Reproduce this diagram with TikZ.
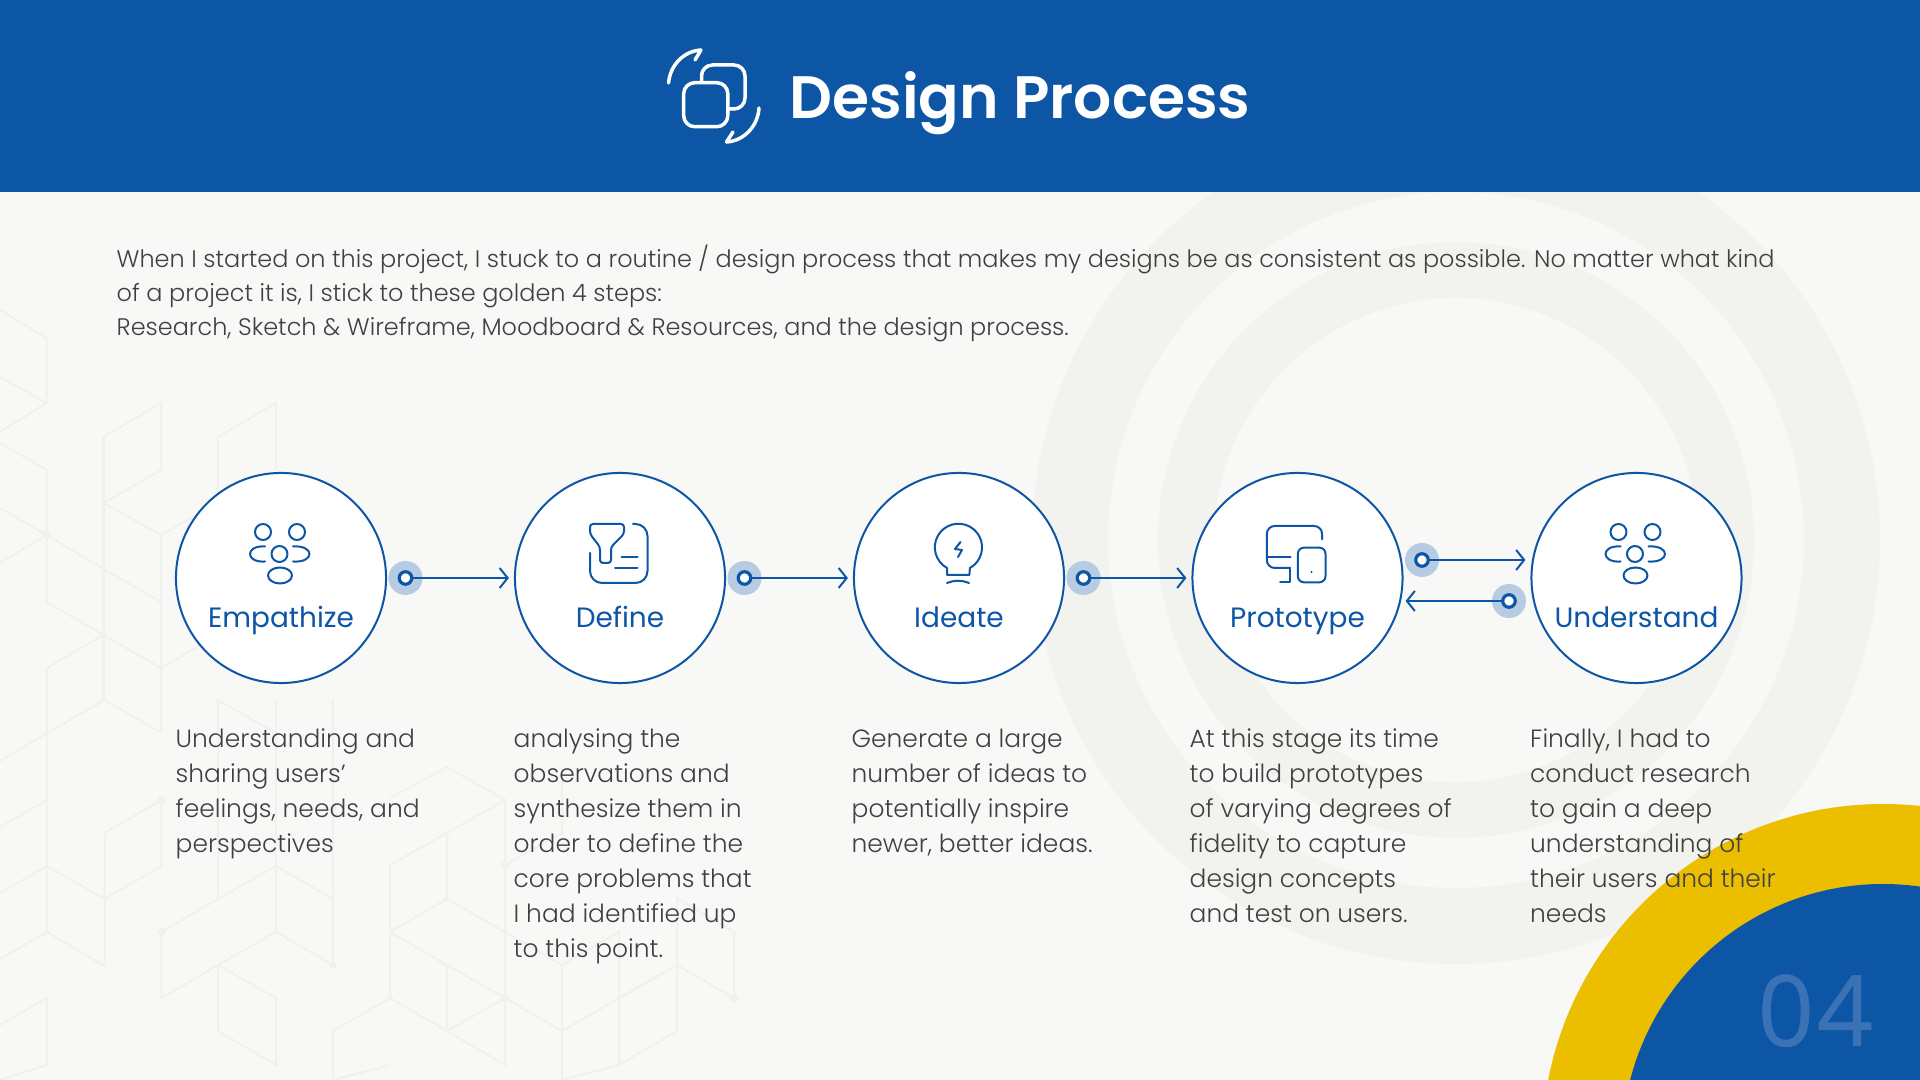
\documentclass[tikz,border=0pt]{standalone}
\usepackage{fontspec}
\setmainfont{Poppins Light}
\newfontfamily\regfont{Poppins}
\newfontfamily\semifont{Poppins SemiBold}
\newfontfamily\numfont[FakeBold=0.5,LetterSpace=3]{Open Sans}
\usetikzlibrary{arrows.meta}
\definecolor{primary}{HTML}{0D55A5}
\definecolor{accent}{HTML}{ECBE00}
\definecolor{paper}{HTML}{F8F8F6}
\definecolor{ringtone}{HTML}{F2F3EF}
\definecolor{hextone}{HTML}{F0F0EE}
\definecolor{halotone}{HTML}{B7CBE3}
\definecolor{mute}{HTML}{404040}
\definecolor{faint}{HTML}{3B72B6}
\tikzset{
  stepcircle/.style={circle,draw=primary,fill=white,line width=0.02cm,minimum size=2.1cm,inner sep=0pt,outer sep=0pt},
  steplabel/.style={anchor=base,inner sep=0pt,text=primary,font=\regfont\fontsize{7.95}{10}\selectfont},
  stepbody/.style={anchor=base west,inner sep=0pt,align=left,text=mute,font=\fontsize{7.09}{9.96}\selectfont},
  halo/.style={circle,fill=halotone,minimum size=0.34cm,inner sep=0pt,outer sep=0pt},
  ringdot/.style={circle,draw=primary,fill=white,line width=0.032cm,minimum size=0.125cm,inner sep=0pt,outer sep=0pt},
  flowline/.style={draw=primary,line width=0.02cm,-{Straight Barb[length=0.08cm,width=0.2cm]},shorten >=0.06cm},
  iconline/.style={draw=primary,line width=0.02cm,line cap=round,line join=round},
  hexline/.style={draw=hextone,line width=0.02cm},
  hexdot/.style={fill=hextone},
  titleline/.style={draw=white,line width=0.035cm,line cap=round,line join=round},
  people/.pic={
    \draw[iconline] (-18,-46) circle[radius=8];
    \draw[iconline] (16,-46) circle[radius=8];
    \draw[iconline] (-1.5,-24) circle[radius=8];
    \draw[iconline] (-16,-31.5) .. controls (-36,-33) and (-36,-15) .. (-16,-16.5);
    \draw[iconline] (12,-31.5) .. controls (34,-33) and (34,-15) .. (12,-16.5);
    \draw[iconline] (-1,-2.5) ellipse[x radius=12,y radius=8];
  }
}
\begin{document}
\begin{tikzpicture}[x=0.01cm,y=-0.01cm]
  \useasboundingbox (0,0) rectangle (1920,1080);
  \clip (0,0) rectangle (1920,1080);
  \fill[paper] (0,0) rectangle (1920,1080);
  % rings
  \draw[ringtone,line width=0.76cm] (1456,540) circle[radius=386];
  \draw[ringtone,line width=0.56cm] (1456,540) circle[radius=270];
  % hex pattern
  \draw[hexline] (0,310) -- (46.7,338) -- (46.7,403) -- (0,432);
  \draw[hexline] (0,377) -- (46.7,403);
  \draw[hexline] (0,443) -- (46.7,470) -- (46.7,602) -- (103.5,635) -- (161,668);
  \draw[hexline] (0,508) -- (46.7,535) -- (103.5,569) -- (161,602);
  \draw[hexline] (0,563) -- (46.7,535);
  \draw[hexline] (103.5,437) -- (161,403) -- (161,470) -- (103.5,503) -- (161,535) -- (218,503);
  \draw[hexline] (103.5,437) -- (103.5,700);
  \draw[hexline] (161,535) -- (161,733);
  \draw[hexline] (218,437) -- (276,403) -- (276,470);
  \draw[hexline] (218,437) -- (218,530);
  \draw[hexline] (46.7,668) -- (103.5,635);
  \draw[hexline] (161,668) -- (218,635);
  \draw[hexline] (46.7,668) -- (46.7,932);
  \draw[hexline] (0,761) -- (47,733) -- (104.6,700) -- (161.7,733);
  \draw[hexline] (0,827) -- (47,800);
  \draw[hexline] (0,893) -- (47,866) -- (104.6,899) -- (161.7,866) -- (161.7,800) -- (104.6,833) -- (104.6,966);
  \draw[hexline] (0,959) -- (47,932) -- (104.6,966);
  \draw[hexline] (0,1025) -- (47,998) -- (47,1065) -- (0,1080);
  \draw[hexline] (161.7,932) -- (161.7,998) -- (218,965) -- (276,998) -- (276,1065) -- (218,1031) -- (218,965);
  \draw[hexline] (161.7,932) -- (218,899) -- (276,866) -- (333,899);
  \draw[hexline] (218,899) -- (218,700) -- (276,733);
  \draw[hexline] (276,866) -- (276,932) -- (333,965);
  \draw[hexline] (276,700) -- (276,866);
  \draw[hexline] (276,932) -- (218,965);
  \draw[hexline] (333,700) -- (333,965);
  \draw[hexline] (333,1080) -- (333,1031) -- (390,998) -- (447,1031) -- (505,998) -- (562,1031) -- (677,965) -- (734,998);
  \draw[hexline] (390,1065) -- (333,1080);
  \draw[hexline] (390,998) -- (390,865) -- (447,833) -- (505,800) -- (505,1065) -- (447,1031) -- (447,965) -- (390,932);
  \draw[hexline] (447,965) -- (505,998);
  \draw[hexline] (390,798) -- (447,767) -- (505,800);
  \draw[hexline] (447,833) -- (447,899) -- (390,932);
  \draw[hexline] (447,899) -- (505,932) -- (562,965) -- (562,1080);
  \draw[hexline] (505,865) -- (562,833) -- (562,767);
  \draw[hexline] (562,965) -- (619,932) -- (619,1065) -- (562,1080);
  \draw[hexline] (619,998) -- (677,965) -- (677,898) -- (734,932) -- (734,998);
  \draw[hexline] (677,1031) -- (677,965);
  \draw[hexline] (677,1031) -- (619,1065);
  \fill[hexdot] (46.7,535) circle[radius=4];
  \fill[hexdot] (161.7,800) circle[radius=4];
  \fill[hexdot] (161.7,932) circle[radius=4];
  \fill[hexdot] (333,965) circle[radius=4];
  \fill[hexdot] (505,865) circle[radius=4];
  \fill[hexdot] (505,998) circle[radius=4];
  \fill[hexdot] (734,998) circle[radius=4];
  % corner
  \fill[accent] (1883,1145) circle[radius=341];
  \fill[primary] (1883,1145) circle[radius=261];
  \node[anchor=base west,inner sep=0pt,text=faint,font=\numfont\fontsize{28}{30}\selectfont] (pagenum) at (1757,1046) {04};
  % header
  \fill[primary] (0,0) rectangle (1920,192);
  \node[anchor=base west,inner sep=0pt,text=white,font=\semifont\fontsize{17.03}{20}\selectfont] (title) at (789,119) {Design Process};
  \draw[titleline,rounded corners=0.11cm] (683.7,82.7) rectangle (727.8,126.7);
  \draw[titleline,rounded corners=0.11cm] (701.5,82) -- (701.5,65) -- (745,65) -- (745,109) -- (728,109);
  \draw[titleline] (668.6,83) .. controls (670,65) and (684,51) .. (701,50) -- (695,60);
  \draw[titleline] (759,108) .. controls (758,126) and (744,141) .. (726.5,142) -- (733,132);
  % intro
  \node[anchor=base west,inner sep=0pt,align=left,text=mute,font=\fontsize{6.81}{9.76}\selectfont] (intro) at (116,336) {When I started on this project, I stuck to a routine / design process that makes my designs be as consistent as possible. No matter what kind\\of a project it is, I stick to these golden 4 steps:\\Research, Sketch \& Wireframe, Moodboard \& Resources, and the design process.};
  % steps
  \node[stepcircle] (empathize) at (281,578) {};
  \node[stepcircle] (define) at (620,578) {};
  \node[stepcircle] (ideate) at (959,578) {};
  \node[stepcircle] (prototype) at (1297.5,578) {};
  \node[stepcircle] (understand) at (1636.5,578) {};
  \node[steplabel] (labelA) at (281,628) {Empathize};
  \node[steplabel] (labelB) at (620,628) {Define};
  \node[steplabel] (labelC) at (959,628) {Ideate};
  \node[steplabel] (labelD) at (1297.5,628) {Prototype};
  \node[steplabel] (labelE) at (1636.5,628) {Understand};
  % icons
  \pic at (281,578) {people};
  \pic at (1636.5,578) {people};
  \begin{scope}[shift={(620,578)}]
    \draw[iconline,rounded corners=0.03cm] (-30,-54) -- (4,-54) -- (4,-44) -- (-9,-31) -- (-9,-15) -- (-20,-15) -- (-20,-31) -- (-30,-44) -- cycle;
    \draw[iconline,rounded corners=0.12cm] (13,-54) -- (27.5,-54) -- (27.5,5) -- (-30,5) -- (-30,-25);
    \draw[iconline] (1.5,-21) -- (17.5,-21);
    \draw[iconline] (-5,-10) -- (17.5,-10);
  \end{scope}
  \begin{scope}[shift={(959,578)}]
    \draw[iconline] (-12,-10) arc[start angle=241,end angle=-61,radius=0.236cm] -- (10.4,-3) -- (-12,-3) -- cycle;
    \draw[iconline] (-12,5) .. controls (-5,2) and (3,2) .. (10,5);
    \draw[iconline] (1.5,-36) -- (-4,-29) -- (3,-28) -- (-1,-21);
  \end{scope}
  \begin{scope}[shift={(1297.5,578)}]
    \draw[iconline,rounded corners=0.08cm] (24.6,-38.7) -- (24.6,-52) -- (-30.7,-52) -- (-30.7,-10) -- (-7.5,-10);
    \draw[iconline] (-7.5,-10) -- (-7.5,3.7) -- (-17.5,3.7);
    \draw[iconline] (-30.7,-21) -- (-7,-21);
    \draw[iconline,rounded corners=0.06cm] (0.4,-30.3) rectangle (28,4.3);
    \fill[primary] (14,-6) circle[radius=1.2];
  \end{scope}
  % connectors
  \node[halo] (haloA) at (405.5,578) {};
  \node[ringdot] (ringA) at (haloA) {};
  \node[halo] (haloB) at (744.5,578) {};
  \node[ringdot] (ringB) at (haloB) {};
  \node[halo] (haloC) at (1083.5,578) {};
  \node[ringdot] (ringC) at (haloC) {};
  \node[halo] (haloD) at (1422,560) {};
  \node[ringdot] (ringD) at (haloD) {};
  \node[halo] (haloE) at (1509,601) {};
  \node[ringdot] (ringE) at (haloE) {};
  \draw[flowline] (ringA) -- (define);
  \draw[flowline] (ringB) -- (ideate);
  \draw[flowline] (ringC) -- (prototype);
  \draw[flowline] (ringD) -- (ringD -| understand.west);
  \draw[flowline,shorten >=0.03cm] (ringE) -- (ringE -| prototype.east);
  % texts
  \node[stepbody] (bodyA) at (175,853) {Understanding and\\sharing users'\\feelings, needs, and\\perspectives};
  \node[stepbody] (bodyB) at (513,958) {analysing the\\observations and\\synthesize them in\\order to define the\\core problems that\\I had identified up\\to this point.};
  \node[stepbody] (bodyC) at (851,853) {Generate a large\\number of ideas to\\potentially inspire\\newer, better ideas.};
  \node[stepbody] (bodyD) at (1189,923) {At this stage its time\\to build prototypes\\of varying degrees of\\fidelity to capture\\design concepts\\and test on users.};
  \node[stepbody] (bodyE) at (1529.5,923) {Finally, I had to\\conduct research\\to gain a deep\\understanding of\\their users and their\\needs};
\end{tikzpicture}
\end{document}
